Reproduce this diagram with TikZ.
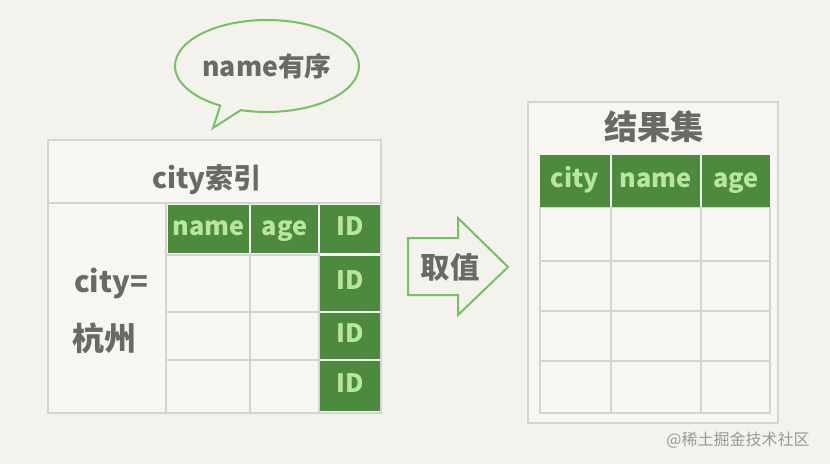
\documentclass[tikz,border=0pt]{standalone}
\usepackage{fontspec}
\setmainfont{Noto Sans CJK SC}
\usetikzlibrary{shapes.callouts}
\definecolor{bg}{HTML}{F3F2ED}
\definecolor{cellbg}{HTML}{F7F6F3}
\definecolor{gridc}{HTML}{D4D4D0}
\definecolor{dgreen}{HTML}{4E8A3E}
\definecolor{lgreen}{HTML}{B8E6A0}
\definecolor{bgreen}{HTML}{74C262}
\definecolor{txt}{HTML}{6A6A64}
\begin{document}
\begin{tikzpicture}[x=0.75pt,y=-0.75pt,
  gridline/.style={draw=gridc,line width=1.5pt},
  gcell/.style={fill=dgreen,text=lgreen,inner sep=0pt,text height=13pt,text depth=4pt,
                font=\fontsize{19}{21}\selectfont\bfseries},
  dtext/.style={text=txt,inner sep=0pt},
  ]
\useasboundingbox (0,0) rectangle (830,464);
\fill[bg] (0,0) rectangle (830,464);

% ---------- left table ----------
\fill[cellbg] (48,140) rectangle (381,413);
\draw[gridline] (48,140) rectangle (381,413);
\draw[gridline] (48,203) -- (381,203);
\draw[gridline] (166,203) -- (166,413);
\draw[gridline] (166,255) -- (320,255);
\draw[gridline] (166,312) -- (320,312);
\draw[gridline] (166,360) -- (320,360);
\draw[gridline] (250,253) -- (250,413);
\draw[gridline] (319,253) -- (319,413);

\node[dtext,font=\fontsize{21}{24}\selectfont\bfseries] (ctitle) at (207,180) {city索引};
\node[gcell,minimum width=60.75pt,minimum height=36pt] (n1) at (208.5,229) {name};
\node[gcell,minimum width=50.25pt,minimum height=36pt] (a1) at (284.5,229) {age};
\node[gcell,minimum width=45pt,minimum height=36pt] (id1) at (350,229) {ID};
\node[gcell,minimum width=45pt,minimum height=41.25pt] (id2) at (350,283.5) {ID};
\node[gcell,minimum width=45pt,minimum height=34.5pt] (id3) at (350,336) {ID};
\node[gcell,minimum width=45pt,minimum height=37.5pt] (id4) at (350,386) {ID};
\node[dtext,font=\fontsize{22}{24}\selectfont\bfseries] (cityeq) at (111,284) {city=};
\node[dtext,font=\fontsize{24}{26}\selectfont\bfseries] (hz) at (104,338) {杭州};

% ---------- speech bubble ----------
\node[ellipse callout,draw=bgreen,line width=1.5pt,fill=bg,
      minimum width=138pt,minimum height=69pt,inner sep=0pt,
      callout absolute pointer={(213,128)},callout pointer arc=14,
      text=txt,font=\fontsize{20}{22}\selectfont\bfseries] (bubble) at (267,66) {name有序};

% ---------- arrow ----------
\draw[draw=bgreen,line width=1.5pt,line join=miter]
  (408,238) -- (458,238) -- (458,218) -- (508,267) -- (458,315) -- (458,295) -- (408,295) -- cycle;
\node[dtext,font=\fontsize{22}{24}\selectfont\bfseries] (qz) at (450,267) {取值};

% ---------- right table ----------
\fill[cellbg] (528,102) rectangle (778,423);
\draw[gridline] (528,102) rectangle (778,423);
\draw[gridline] (540,207) rectangle (770,413);
\draw[gridline] (540,261) -- (770,261);
\draw[gridline] (540,311) -- (770,311);
\draw[gridline] (540,361) -- (770,361);
\draw[gridline] (611,207) -- (611,413);
\draw[gridline] (701,207) -- (701,413);

\node[dtext,font=\fontsize{25}{28}\selectfont\bfseries] (rtitle) at (654,127) {结果集};
\node[gcell,minimum width=52.5pt,minimum height=39pt] (rc) at (575,181) {city};
\node[gcell,minimum width=66pt,minimum height=39pt] (rn) at (656,181) {name};
\node[gcell,minimum width=51pt,minimum height=39pt] (ra) at (736,181) {age};

% ---------- watermark ----------
\node[text=gray!80,inner sep=0pt,font=\fontsize{12}{14}\selectfont] (wm) at (738,440) {@稀土掘金技术社区};
\end{tikzpicture}
\end{document}
